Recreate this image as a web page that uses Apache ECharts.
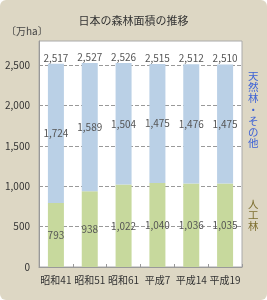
<!DOCTYPE html>
<html><head><meta charset="utf-8">
<script src="https://cdn.jsdelivr.net/npm/echarts@6/dist/echarts.min.js"></script>
<style>html,body{margin:0;padding:0;background:#fff}#c{width:267px;height:300px;background:#ddd7c4;border-radius:6px}</style>
</head><body><div id="c"></div>
<script>
var categories = ['昭和41','昭和51','昭和61','平成7','平成14','平成19'];
var planted = [793, 938, 1022, 1040, 1036, 1035];
var natural = [1724, 1589, 1504, 1475, 1476, 1475];
var totals = [2517, 2527, 2526, 2515, 2512, 2510];
var yTicks = [0, 500, 1000, 1500, 2000, 2500];

function fmt(v){ return v.toLocaleString('en-US'); }
var chart = echarts.init(document.getElementById('c'), null, {renderer:'canvas'});
var font = '"Noto Sans CJK JP", sans-serif';
chart.setOption({
  animation:false,
  textStyle:{fontFamily:font},
  title:{text:'日本の森林面積の推移', left:'center', top:10,
    textStyle:{fontSize:11, fontWeight:'normal', color:'#333', fontFamily:font}},
  graphic:[
    {type:'text', left:6, top:26, style:{text:'〔万ha〕', fontSize:10, fill:'#444', fontFamily:font}},
    {type:'text', left:248, top:70, style:{text:'天\n然\n林\n・\nそ\nの\n他', fontSize:10.5, lineHeight:11.3, fill:'#3d62d6', fontFamily:font}},
    {type:'text', left:248, top:198, style:{text:'人\n工\n林', fontSize:10.5, lineHeight:11.3, fill:'#7d6e2f', fontFamily:font}}
  ],
  grid:{left:39, right:25, top:41, bottom:33, show:true, backgroundColor:'#fff', borderColor:'#aaa', borderWidth:1},
  xAxis:{type:'category', data:categories,
    axisLine:{lineStyle:{color:'#999'}},
    axisTick:{show:true, inside:true, length:3, lineStyle:{color:'#999'}},
    axisLabel:{interval:0, fontSize:10, color:'#333', margin:8, fontFamily:font}},
  yAxis:{type:'value', min:0, max:2800, interval:500,
    axisLine:{show:true, lineStyle:{color:'#999'}},
    axisTick:{show:false},
    axisLabel:{fontSize:10, color:'#333', margin:9, showMaxLabel:false, formatter:function(v){return fmt(v);}, fontFamily:font},
    splitLine:{show:true, showMaxLine:false, lineStyle:{type:'dashed', color:'#999'}}},
  series:[
    {name:'人工林', type:'bar', stack:'a', barWidth:16, data:planted,
      itemStyle:{color:'#c7d99d'},
      label:{show:true, position:'inside', fontSize:10, color:'#555', formatter:function(p){return fmt(p.value);}}},
    {name:'天然林・その他', type:'bar', stack:'a', barWidth:16, data:natural,
      itemStyle:{color:'#bad0e6'},
      label:{show:true, position:'inside', fontSize:10, color:'#555', formatter:function(p){return fmt(p.value);}}},
    {name:'合計', type:'bar', stack:'a', barWidth:16, data:totals.map(function(){return 0;}),
      itemStyle:{color:'transparent'},
      label:{show:true, position:'top', distance:1, fontSize:10, color:'#555', formatter:function(p){return fmt(totals[p.dataIndex]);}}}
  ]
});
</script></body></html>
